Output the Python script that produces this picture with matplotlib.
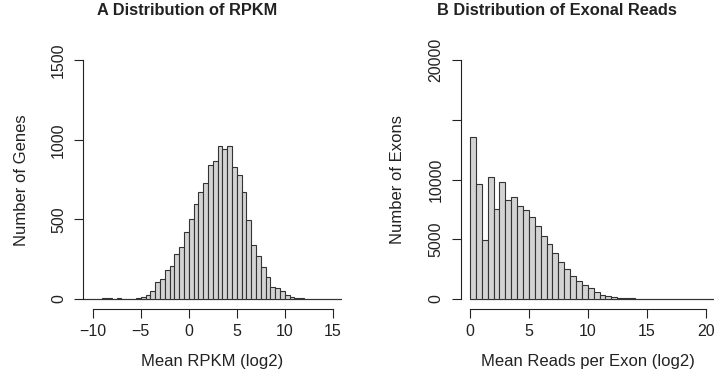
import numpy as np
import matplotlib
matplotlib.use("Agg")
import matplotlib.pyplot as plt

plt.rcParams["font.family"] = ["Liberation Sans", "DejaVu Sans"]

# ── data (0.5-wide bins) ──────────────────────────────────────────────────
rpkm_start = -11.0
rpkm_counts = [0, 0, 0, 2, 3, 4, 2, 3, 1, 2, 1, 6,
               12, 27, 48, 107, 126, 184, 209, 282, 326, 424,
               505, 597, 673, 731, 844, 867, 959, 942, 963, 830,
               782, 671, 497, 339, 267, 201, 138, 77, 66, 48,
               25, 10, 4, 3, 2, 1, 0, 0, 0, 0, 0, 0]

exon_start = 0.0
exon_counts = [13540, 9606, 4916, 10243, 7512, 9773, 8266, 8517, 7789, 7479,
               6893, 6088, 5301, 4631, 3827, 3074, 2538, 1900, 1482, 1147,
               896, 614, 363, 251, 168, 112, 70, 40, 25, 15,
               8, 0, 0, 0, 0, 0, 0, 0, 0, 0, 0, 0]
bin_width = 0.5

rpkm_xticks = [-10, -5, 0, 5, 10, 15]
rpkm_yticks = [0, 500, 1000, 1500]
rpkm_ylabels = ["0", "500", "1000", "1500"]

exon_xticks = [0, 5, 10, 15, 20]
exon_yticks = [0, 5000, 10000, 15000, 20000]
exon_ylabels = ["0", "5000", "10000", "", "20000"]

W, H = 714, 375
fig = plt.figure(figsize=(W / 100, H / 100), dpi=100)


def px_axes(x0, x1, y0, y1):
    # pixel box -> figure fraction
    return fig.add_axes([x0 / W, 1 - y1 / H, (x1 - x0) / W, (y1 - y0) / H])


def r_style(ax, xticks, yticks, ylabels):
    for s in ("top", "right"):
        ax.spines[s].set_visible(False)
    for s in ("left", "bottom"):
        ax.spines[s].set_linewidth(0.8)
        ax.spines[s].set_color("#222222")
    ax.spines["left"].set_bounds(yticks[0], yticks[-1])
    ax.spines["bottom"].set_bounds(xticks[0], xticks[-1])
    ax.set_xticks(xticks)
    ax.set_yticks(yticks)
    ax.set_yticklabels(ylabels, rotation=90, va="center")
    ax.tick_params(direction="out", length=6.8, width=0.8, color="#222222",
                   labelsize=11.5, labelcolor="#222222")
    ax.tick_params(axis="x", pad=4.5)
    ax.tick_params(axis="y", pad=5.5)


def hist_bars(ax, start, counts):
    lefts = start + bin_width * np.arange(len(counts))
    ax.hlines(0, lefts[0], lefts[-1] + bin_width, color="#333333",
              linewidth=0.8, zorder=1)
    ax.bar(lefts, counts, width=bin_width, align="edge", color="#d3d3d3",
           edgecolor="#333333", linewidth=0.8, zorder=2)


# ── A ──────────────────────────────────────────────────────────────────────
axA = px_axes(83.1, 342.3, 50.8, 308.5)
hist_bars(axA, rpkm_start, rpkm_counts)
axA.set_xlim(-11, 16)
axA.set_ylim(-60, 1560)
r_style(axA, rpkm_xticks, rpkm_yticks, rpkm_ylabels)

# ── B ──────────────────────────────────────────────────────────────────────
axB = px_axes(460.6, 715.0, 50.8, 308.5)
hist_bars(axB, exon_start, exon_counts)
axB.set_xlim(-0.8, 20.8)
axB.set_ylim(-800, 20800)
r_style(axB, exon_xticks, exon_yticks, exon_ylabels)

# titles and axis labels
fig.text(187 / W, 1 - 15 / H, "A Distribution of RPKM", ha="center",
         va="baseline", fontsize=11.8, weight="bold", color="#222222")
fig.text(557 / W, 1 - 15 / H, "B Distribution of Exonal Reads", ha="center",
         va="baseline", fontsize=11.8, weight="bold", color="#222222")

fig.text(212 / W, 1 - 366 / H, "Mean RPKM (log2)", ha="center",
         va="baseline", fontsize=12, color="#222222")
fig.text(588 / W, 1 - 366 / H, "Mean Reads per Exon (log2)", ha="center",
         va="baseline", fontsize=12, color="#222222")

fig.text(22 / W, 1 - 180 / H, "Number of Genes", ha="center", va="center",
         rotation=90, fontsize=12, color="#222222")
fig.text(397 / W, 1 - 180 / H, "Number of Exons", ha="center", va="center",
         rotation=90, fontsize=12, color="#222222")

fig.savefig("out.png", dpi=100)
